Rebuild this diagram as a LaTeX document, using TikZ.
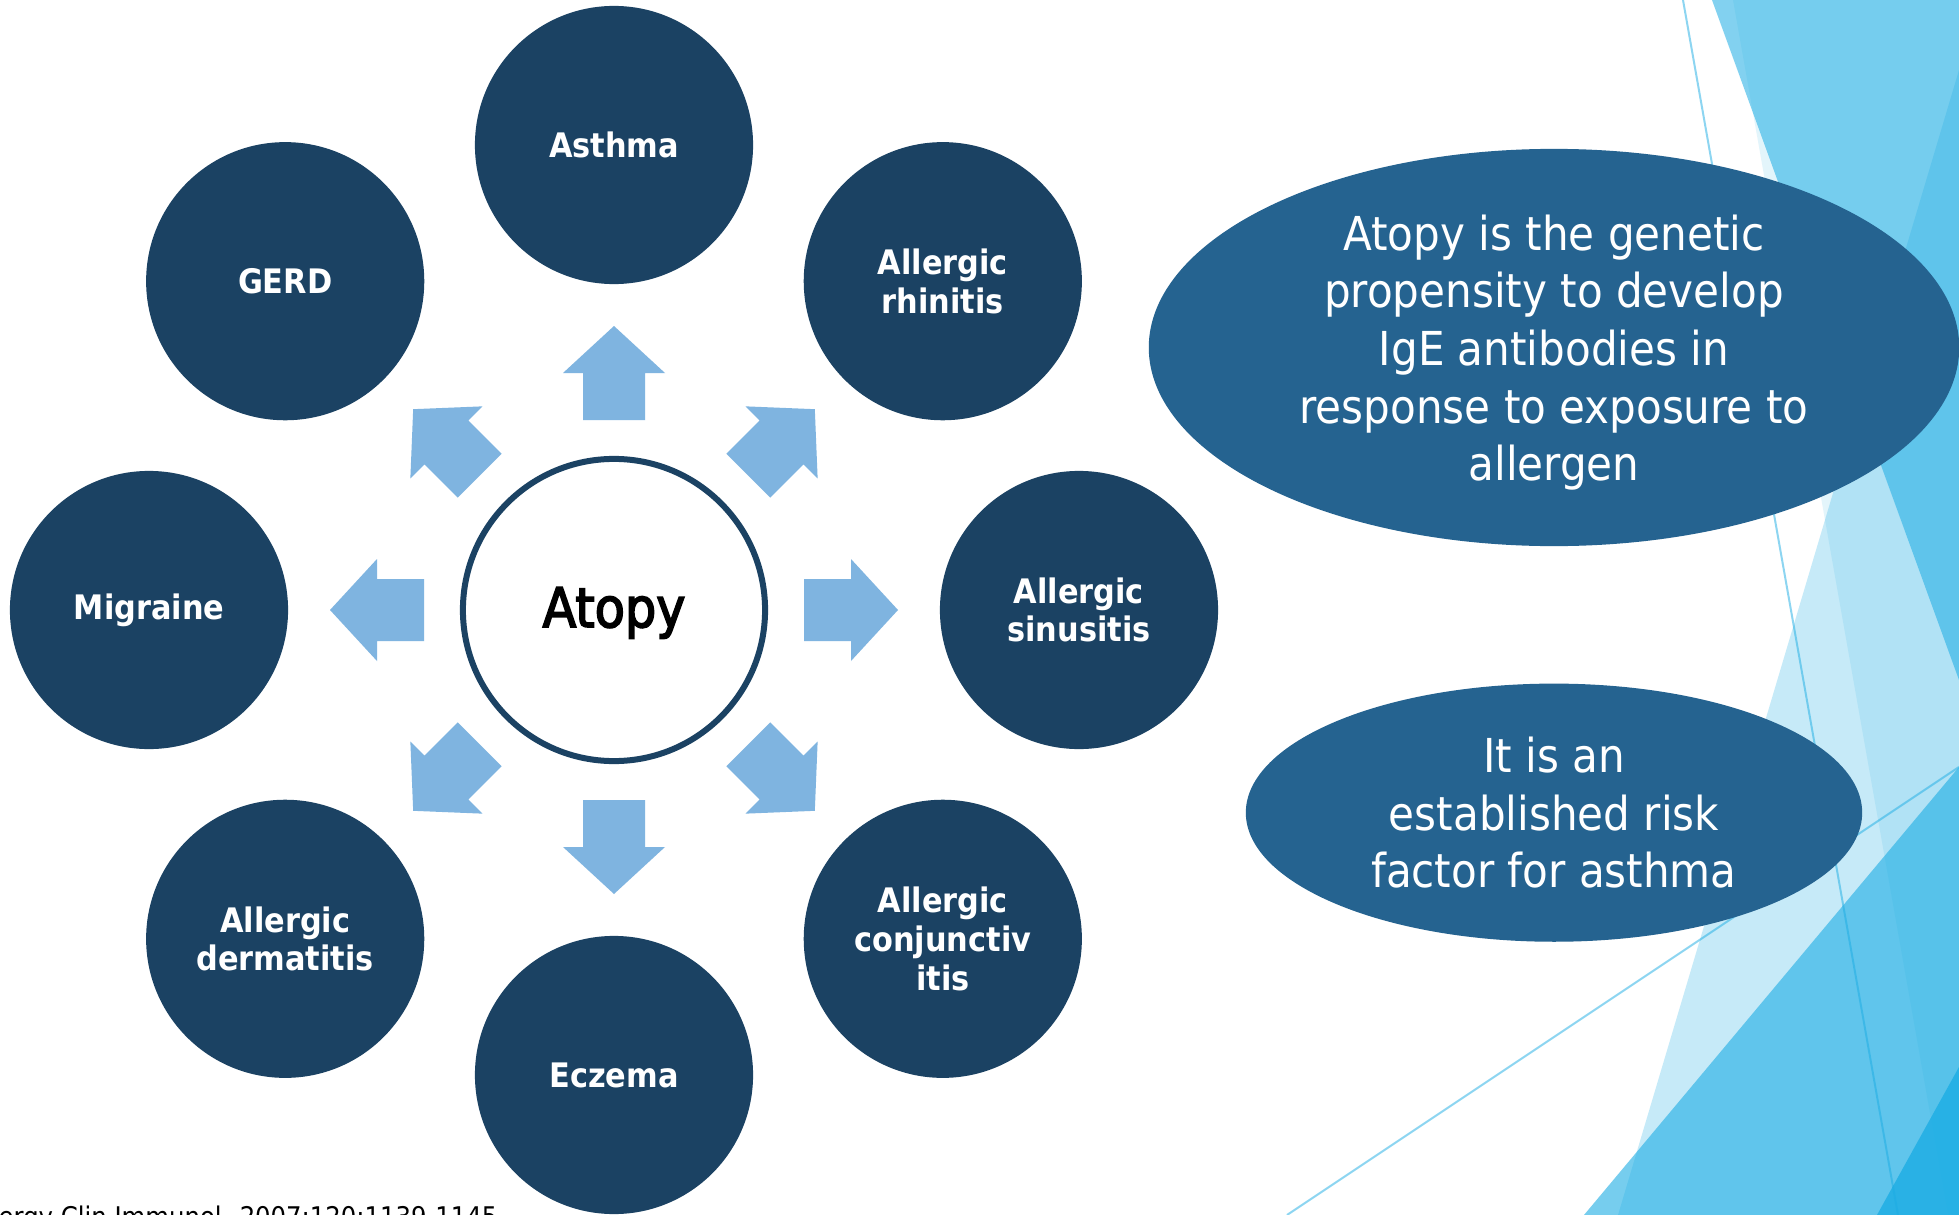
\documentclass[tikz,border=0pt]{standalone}
\usepackage{fontspec}
\setmainfont{DejaVu Sans Condensed}
\newfontfamily\hubfont{DejaVu Sans Condensed}[FakeBold=3]
\usetikzlibrary{positioning,shapes.geometric}
\usepackage{xcolor}
\definecolor{cnavy}{HTML}{1B4263}
\definecolor{cocean}{HTML}{256390}
\definecolor{csky}{HTML}{7FB4E0}
\definecolor{cfacet}{HTML}{1CADE4}

\begin{document}
\begin{tikzpicture}[
  x=0.01cm, y=0.01cm,
  disease/.style={circle, fill=cnavy, text=white, minimum size=2.78cm,
                  inner sep=0pt, align=center,
                  font=\bfseries\fontsize{9.6}{11}\selectfont},
  hub/.style={circle, draw=cnavy, line width=0.06cm, fill=white,
              minimum size=3.02cm, font=\hubfont\fontsize{15.6}{18}\selectfont},
  fact/.style={ellipse, fill=cocean, text=white, inner xsep=0pt,
               inner ysep=-12pt, align=center,
               font=\fontsize{13.3}{16.4}\selectfont},
  spoke/.style={fill=csky},
  node distance=1.36cm
]
\useasboundingbox (0,0) rectangle (1959,-1215);
\clip (0,0) rectangle (1959,-1215);
\fill[white] (0,0) rectangle (1959,-1215);

\fill[cfacet, opacity=.25] (1959,-70) -- (1618,-1215) -- (1959,-1215) -- cycle;
\fill[cfacet, opacity=.12] (1733,0) -- (1948,-1215) -- (1959,-1215) -- (1959,0) -- cycle;
\fill[cfacet, opacity=.55] (1712,0) -- (1959,0) -- (1959,-680) -- cycle;
\fill[cfacet, opacity=.6] (1959,-767) -- (1584,-1215) -- (1959,-1215) -- cycle;
\fill[cfacet, opacity=.8] (1959,-1067) -- (1877,-1215) -- (1959,-1215) -- cycle;
\draw[cfacet, opacity=.5, line width=0.02cm] (1683,0) -- (1898,-1215);
\draw[cfacet, opacity=.5, line width=0.02cm] (1287,-1215) -- (1959,-767);

\node[hub] (atopy) at (614,-610) {\rule{0pt}{13pt}Atopy};

\node[disease] (asthma)     at ([shift={(90:465)}]atopy.center)  {Asthma};
\node[disease] (rhinitis)   at ([shift={(45:465)}]atopy.center)  {Allergic\\rhinitis};
\node[disease] (sinusitis)  at ([shift={(0:465)}]atopy.center)   {Allergic\\sinusitis};
\node[disease] (conj)       at ([shift={(-45:465)}]atopy.center) {Allergic\\conjunctiv\\itis};
\node[disease] (eczema)     at ([shift={(-90:465)}]atopy.center) {Eczema};
\node[disease] (dermatitis) at ([shift={(225:465)}]atopy.center) {Allergic\\dermatitis};
\node[disease] (migraine)   at ([shift={(180:465)}]atopy.center) {Migraine};
\node[disease] (gerd)       at ([shift={(135:465)}]atopy.center) {GERD};

\foreach \ang in {0,45,...,315}
  \fill[spoke, shift={(atopy.center)}, rotate=\ang]
    (190,31) -- (237,31) -- (237,51) -- (284,0) -- (237,-51) -- (237,-31) -- (190,-31) -- cycle;

\node[fact, minimum width=8.1cm, minimum height=3.97cm] (fact1) at (1554,-347.5) {
  \rule{0pt}{13pt}Atopy is the genetic\\
  propensity to develop\\
  IgE antibodies in\\
  response to exposure to\\
  allergen
};
\node[fact, minimum width=6.16cm, minimum height=2.58cm, below=1.36cm of fact1] (fact2) {
  It is an\\
  established risk\\
  factor for asthma
};

\node[anchor=base west, inner sep=0pt, font=\fontsize{7.7}{9.2}\selectfont] (cite)
  at (-2,-1226) {ergy Clin Immunol. 2007;120:1139-1145};
\end{tikzpicture}
\end{document}
